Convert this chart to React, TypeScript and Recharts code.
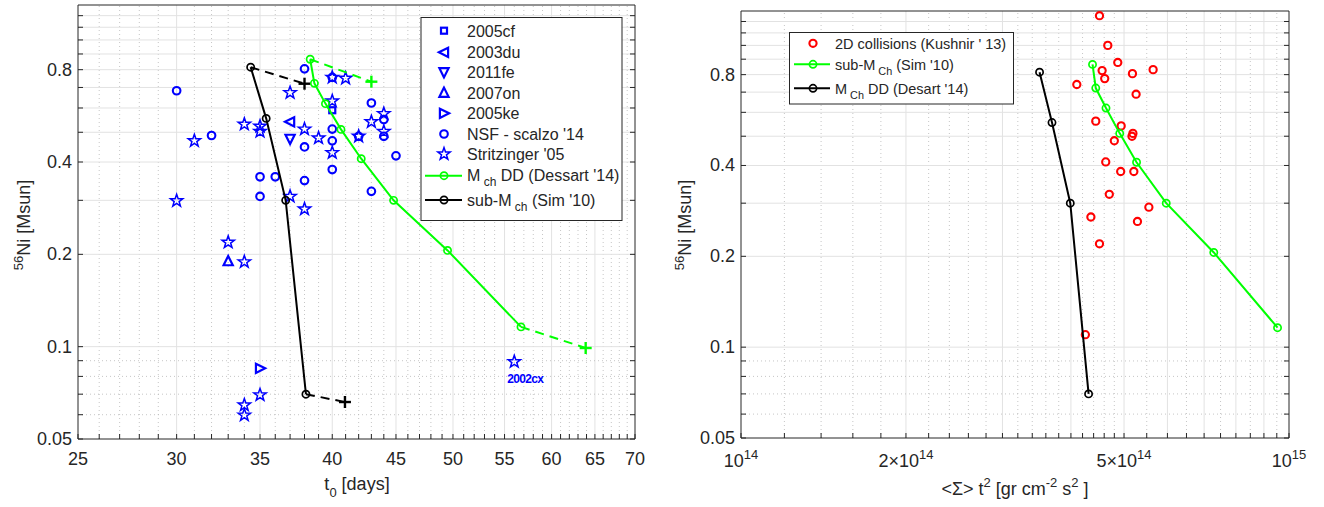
import React from "react";
import { ComposedChart, Scatter, XAxis, YAxis, ReferenceLine } from "recharts";

/* =======================
   Style constants
======================= */
const FONT = "'Liberation Sans', Arial, Helvetica, sans-serif";
const AXIS = "#262626";
const BLUE = "#0000ff";
const GREEN = "#00ff00";
const RED = "#ff0000";
const BLACK = "#000000";
const GRID = "#e2e2e2";
const GRID_DOT = "#b8b8b8";
const TICK_LEN = 5;

/* =======================
   Left panel data (t0 [days] vs Ni mass)
======================= */
const sn2005cf = [{ t0: 40, ni: 0.59 }];
const sn2003du = [{ t0: 37, ni: 0.541 }];
const sn2011fe = [{ t0: 37, ni: 0.476 }];
const sn2007on = [{ t0: 33, ni: 0.19 }];
const sn2005ke = [{ t0: 35, ni: 0.085 }];

const scalzo = [
  { t0: 30, ni: 0.683 },
  { t0: 32, ni: 0.488 },
  { t0: 35, ni: 0.358 },
  { t0: 36, ni: 0.358 },
  { t0: 35, ni: 0.309 },
  { t0: 38, ni: 0.805 },
  { t0: 38, ni: 0.448 },
  { t0: 38, ni: 0.348 },
  { t0: 40, ni: 0.755 },
  { t0: 40, ni: 0.512 },
  { t0: 40, ni: 0.469 },
  { t0: 40, ni: 0.378 },
  { t0: 42, ni: 0.485 },
  { t0: 43, ni: 0.623 },
  { t0: 43, ni: 0.321 },
  { t0: 44, ni: 0.55 },
  { t0: 44, ni: 0.485 },
  { t0: 45, ni: 0.419 },
];

const stritzinger = [
  { t0: 30, ni: 0.299 },
  { t0: 31, ni: 0.469 },
  { t0: 33, ni: 0.219 },
  { t0: 34, ni: 0.531 },
  { t0: 34, ni: 0.189 },
  { t0: 34, ni: 0.0645 },
  { t0: 34, ni: 0.0598 },
  { t0: 35, ni: 0.523 },
  { t0: 35, ni: 0.503 },
  { t0: 35, ni: 0.0696 },
  { t0: 37, ni: 0.673 },
  { t0: 37, ni: 0.309 },
  { t0: 38, ni: 0.512 },
  { t0: 38, ni: 0.281 },
  { t0: 39, ni: 0.479 },
  { t0: 40, ni: 0.755 },
  { t0: 40, ni: 0.632 },
  { t0: 40, ni: 0.429 },
  { t0: 41, ni: 0.75 },
  { t0: 42, ni: 0.485 },
  { t0: 43, ni: 0.541 },
  { t0: 44, ni: 0.575 },
  { t0: 44, ni: 0.503 },
];
const sn2002cx = [{ t0: 56, ni: 0.0893, name: "2002cx" }];

// model tracks (same Ni for both panels)
const dessartNi = [0.865, 0.722, 0.62, 0.511, 0.41, 0.3, 0.206, 0.116];
const dessartT0 = [38.4, 38.7, 39.5, 40.65, 42.2, 44.8, 49.5, 56.7];
const dessartSt2 = [4.38e14, 4.44e14, 4.635e14, 4.91e14, 5.27e14, 5.97e14, 7.29e14, 9.53e14];
const dessartPlus = [
  { t0: 43.0, ni: 0.731 },
  { t0: 63.9, ni: 0.099 },
];

const simNi = [0.815, 0.555, 0.3, 0.07];
const simT0 = [34.4, 35.4, 36.7, 38.1];
const simSt2 = [3.506e14, 3.694e14, 3.989e14, 4.308e14];
const simPlus = [
  { t0: 38.0, ni: 0.72 },
  { t0: 40.95, ni: 0.066 },
];

/* =======================
   Right panel data (<Sigma> t^2 vs Ni mass)
======================= */
const kushnir = [
  { st2: 4.51e14, ni: 1.254 },
  { st2: 4.67e14, ni: 1.0 },
  { st2: 4.87e14, ni: 0.878 },
  { st2: 4.56e14, ni: 0.825 },
  { st2: 4.61e14, ni: 0.776 },
  { st2: 5.18e14, ni: 0.806 },
  { st2: 5.65e14, ni: 0.831 },
  { st2: 4.1e14, ni: 0.742 },
  { st2: 5.26e14, ni: 0.689 },
  { st2: 4.44e14, ni: 0.561 },
  { st2: 4.94e14, ni: 0.541 },
  { st2: 5.19e14, ni: 0.511 },
  { st2: 5.17e14, ni: 0.5 },
  { st2: 4.8e14, ni: 0.483 },
  { st2: 4.63e14, ni: 0.411 },
  { st2: 4.93e14, ni: 0.382 },
  { st2: 5.21e14, ni: 0.382 },
  { st2: 4.7e14, ni: 0.321 },
  { st2: 5.55e14, ni: 0.291 },
  { st2: 4.35e14, ni: 0.27 },
  { st2: 5.29e14, ni: 0.261 },
  { st2: 4.51e14, ni: 0.22 },
  { st2: 4.25e14, ni: 0.11 },
];

/* =======================
   Ticks / grid values
======================= */
const t0Major = [25, 30, 35, 40, 45, 50, 55, 60, 65, 70];
const t0Minor = Array.from({ length: 46 }, (_, i) => 25 + i).filter((v) => v % 5 !== 0);
const t0Ticks = [...t0Major, ...t0Minor].sort((a, b) => a - b);

const niMajor = [0.05, 0.1, 0.2, 0.4, 0.8];
const niSolid = [0.1, 0.2, 0.3, 0.4, 0.5, 0.6, 0.7, 0.8, 0.9, 1.0, 1.1, 1.2];
const niDotted = [0.06, 0.07, 0.08, 0.09];
const niTicks = [0.05, ...niDotted, ...niSolid];

const st2Major = [1e14, 2e14, 5e14, 1e15];
const st2Solid = [2e14, 3e14, 4e14, 5e14, 6e14, 7e14, 8e14, 9e14];
const st2Dotted = [
  1.2e14, 1.4e14, 1.6e14, 1.8e14, 2.2e14, 2.4e14, 2.6e14, 2.8e14, 3.2e14, 3.4e14, 3.6e14,
  3.8e14, 4.2e14, 4.4e14, 4.6e14, 4.8e14, 5.5e14, 6.5e14, 7.5e14, 8.5e14, 9.5e14,
];
const st2Ticks = [1e14, ...st2Dotted, ...st2Solid, 1e15].sort((a, b) => a - b);
const st2Labels: Record<string, string> = { "1e14": "", "2e14": "2×", "5e14": "5×", "1e15": "" };

/* =======================
   Markers
======================= */
const Circle = ({ cx, cy, color, r = 3.8, w = 2.1 }: any) => (
  <circle cx={cx} cy={cy} r={r} fill="none" stroke={color} strokeWidth={w} />
);

const Star = ({ cx, cy, r = 6.5 }: any) => {
  const pts: string[] = [];
  for (let i = 0; i < 10; i++) {
    const a = -Math.PI / 2 + (i * Math.PI) / 5;
    const rr = i % 2 === 0 ? r : r * 0.4;
    pts.push(`${cx + rr * Math.cos(a)},${cy + rr * Math.sin(a)}`);
  }
  return <polygon points={pts.join(" ")} fill="none" stroke={BLUE} strokeWidth={1.5} />;
};

const Tri = ({ cx, cy, dir }: any) => {
  const s = 4.6;
  const pts: Record<string, number[][]> = {
    left: [[-s - 0.5, 0], [s - 0.5, -s], [s - 0.5, s]],
    right: [[s + 0.5, 0], [-s + 0.5, -s], [-s + 0.5, s]],
    up: [[0, -s - 0.5], [-s, s - 0.5], [s, s - 0.5]],
    down: [[0, s + 0.5], [-s, -s + 0.5], [s, -s + 0.5]],
  };
  return (
    <polygon
      points={pts[dir].map(([x, y]) => `${cx + x},${cy + y}`).join(" ")}
      fill="none"
      stroke={BLUE}
      strokeWidth={2.2}
      strokeLinejoin="miter"
    />
  );
};

const Square = ({ cx, cy }: any) => (
  <rect x={cx - 3} y={cy - 3} width={6} height={6} fill="none" stroke={BLUE} strokeWidth={2.2} />
);

const Plus = ({ cx, cy, color }: any) => (
  <g stroke={color} strokeWidth={2.4}>
    <line x1={cx - 6} y1={cy} x2={cx + 6} y2={cy} />
    <line x1={cx} y1={cy - 6} x2={cx} y2={cy + 6} />
  </g>
);

const Nothing = () => <g />;

/* =======================
   Axis ticks (inward tick mark drawn here + label)
======================= */
const tickText = { fontFamily: FONT, fontSize: 18, fill: AXIS };

const T0Tick = (p: any) => (
  <g>
    <line x1={p.x} y1={p.y} x2={p.x} y2={p.y - TICK_LEN} stroke={AXIS} />
    {t0Major.includes(p.payload.value) && (
      <text x={p.x} y={p.y + 26} textAnchor="middle" {...tickText}>
        {p.payload.value}
      </text>
    )}
  </g>
);

const NiTick = (p: any) => (
  <g>
    <line x1={p.x} y1={p.y} x2={p.x + TICK_LEN} y2={p.y} stroke={AXIS} />
    {niMajor.includes(p.payload.value) && (
      <text x={p.x - 6} y={p.y + 6} textAnchor="end" {...tickText}>
        {p.payload.value}
      </text>
    )}
  </g>
);

const St2Tick = (p: any) => {
  const v = p.payload.value;
  const key = v.toExponential().replace("+", "");
  const exp = String(Math.floor(Math.log10(v) + 1e-9));
  return (
    <g>
      <line x1={p.x} y1={p.y} x2={p.x} y2={p.y - TICK_LEN} stroke={AXIS} />
      {st2Major.includes(v) && (
        <text x={p.x} y={p.y + 29} textAnchor="middle" {...tickText}>
          {st2Labels[key]}10
          <tspan dy={-8} fontSize={13}>
            {exp}
          </tspan>
        </text>
      )}
    </g>
  );
};

const TopTick = (p: any) => <line x1={p.x} y1={p.y} x2={p.x} y2={p.y + TICK_LEN} stroke={AXIS} />;
const RightTick = (p: any) => <line x1={p.x} y1={p.y} x2={p.x - TICK_LEN} y2={p.y} stroke={AXIS} />;

/* =======================
   Grid as reference lines
======================= */
const gridX = (solid: number[], dotted: number[]) => [
  ...dotted.map((v) => (
    <ReferenceLine key={`xd${v}`} x={v} stroke={GRID_DOT} strokeWidth={0.8} strokeDasharray="1 3" />
  )),
  ...solid.map((v) => <ReferenceLine key={`xs${v}`} x={v} stroke={GRID} strokeWidth={1} />),
];
const gridY = (solid: number[], dotted: number[]) => [
  ...dotted.map((v) => (
    <ReferenceLine key={`yd${v}`} y={v} stroke={GRID_DOT} strokeWidth={0.8} strokeDasharray="1 3" />
  )),
  ...solid.map((v) => <ReferenceLine key={`ys${v}`} y={v} stroke={GRID} strokeWidth={1} />),
];

const axisCommon = {
  type: "number" as const,
  scale: "log" as const,
  allowDataOverflow: true,
  interval: 0 as const,
  tickSize: 0,
  tickMargin: 0,
  tickLine: false,
  stroke: AXIS,
  axisLine: { stroke: AXIS, strokeWidth: 1 },
};

/* =======================
   Legend rows
======================= */
const Sub = ({ main, sub, rest, size }: any) => (
  <>
    {main}
    <tspan dy={5} fontSize={size * 0.75}>
      {sub}
    </tspan>
    <tspan dy={-5}>{rest}</tspan>
  </>
);

const App = () => {
  const dessartLeft = dessartT0.map((t0, i) => ({ t0, ni: dessartNi[i] }));
  const simLeft = simT0.map((t0, i) => ({ t0, ni: simNi[i] }));
  const dessartRight = dessartSt2.map((st2, i) => ({ st2, ni: dessartNi[i] }));
  const simRight = simSt2.map((st2, i) => ({ st2, ni: simNi[i] }));

  const greenDashA = [dessartLeft[0], dessartPlus[0]];
  const greenDashB = [dessartLeft[dessartLeft.length - 1], dessartPlus[1]];
  const blackDashA = [simLeft[0], simPlus[0]];
  const blackDashB = [simLeft[simLeft.length - 1], simPlus[1]];

  const lg = 16; // left legend font
  const rg = 14.5; // right legend font

  return (
    <div
      style={{
        position: "absolute",
        left: 0,
        top: 0,
        width: 1324,
        height: 507,
        background: "#fff",
        fontFamily: FONT,
      }}
    >
      {/* ================= Left panel ================= */}
      <div style={{ position: "absolute", left: 0, top: 0 }}>
        <ComposedChart width={660} height={507} margin={{ top: 4, right: 24, bottom: 38, left: 18 }}>
          <XAxis {...axisCommon} dataKey="t0" domain={[25, 70]} ticks={t0Ticks} tick={T0Tick} height={30} />
          <XAxis {...axisCommon} xAxisId="top" orientation="top" domain={[25, 70]} ticks={t0Ticks} tick={TopTick} height={1} />
          <YAxis {...axisCommon} dataKey="ni" domain={[0.05, 1.3]} ticks={niTicks} tick={NiTick} width={60} />
          <YAxis {...axisCommon} yAxisId="right" orientation="right" domain={[0.05, 1.3]} ticks={niTicks} tick={RightTick} width={1} />
          {gridX(t0Major.filter((v) => v > 25 && v < 70), t0Minor)}
          {gridY(niSolid, niDotted)}

          <Scatter data={sn2005cf} isAnimationActive={false} shape={(p: any) => <Square cx={p.cx} cy={p.cy} />} />
          <Scatter data={sn2003du} isAnimationActive={false} shape={(p: any) => <Tri cx={p.cx} cy={p.cy} dir="left" />} />
          <Scatter data={sn2011fe} isAnimationActive={false} shape={(p: any) => <Tri cx={p.cx} cy={p.cy} dir="down" />} />
          <Scatter data={sn2007on} isAnimationActive={false} shape={(p: any) => <Tri cx={p.cx} cy={p.cy} dir="up" />} />
          <Scatter data={sn2005ke} isAnimationActive={false} shape={(p: any) => <Tri cx={p.cx} cy={p.cy} dir="right" />} />
          <Scatter data={scalzo} isAnimationActive={false} shape={(p: any) => <Circle cx={p.cx} cy={p.cy} color={BLUE} />} />
          <Scatter data={stritzinger} isAnimationActive={false} shape={(p: any) => <Star cx={p.cx} cy={p.cy} />} />
          <Scatter
            data={sn2002cx}
            isAnimationActive={false}
            shape={(p: any) => (
              <g>
                <Star cx={p.cx} cy={p.cy} />
                <text
                  x={p.cx + 11}
                  y={p.cy + 21}
                  textAnchor="middle"
                  fontFamily={FONT}
                  fontSize={12}
                  fontWeight="bold"
                  fill={BLUE}
                  letterSpacing={-0.7}
                >
                  {p.payload.name}
                </text>
              </g>
            )}
          />

          {/* dashed extrapolations */}
          <Scatter data={greenDashA} isAnimationActive={false} line={{ stroke: GREEN, strokeWidth: 2, strokeDasharray: "9 6" }} shape={Nothing} />
          <Scatter data={greenDashB} isAnimationActive={false} line={{ stroke: GREEN, strokeWidth: 2, strokeDasharray: "9 6" }} shape={Nothing} />
          <Scatter data={blackDashA} isAnimationActive={false} line={{ stroke: BLACK, strokeWidth: 2, strokeDasharray: "9 6" }} shape={Nothing} />
          <Scatter data={blackDashB} isAnimationActive={false} line={{ stroke: BLACK, strokeWidth: 2, strokeDasharray: "9 6" }} shape={Nothing} />
          <Scatter data={dessartPlus} isAnimationActive={false} shape={(p: any) => <Plus cx={p.cx} cy={p.cy} color={GREEN} />} />
          <Scatter data={simPlus} isAnimationActive={false} shape={(p: any) => <Plus cx={p.cx} cy={p.cy} color={BLACK} />} />

          <Scatter
            data={dessartLeft}
            isAnimationActive={false}
            line={{ stroke: GREEN, strokeWidth: 2 }}
            shape={(p: any) => <Circle cx={p.cx} cy={p.cy} color={GREEN} r={3.6} w={1.7} />}
          />
          <Scatter
            data={simLeft}
            isAnimationActive={false}
            line={{ stroke: BLACK, strokeWidth: 2 }}
            shape={(p: any) => <Circle cx={p.cx} cy={p.cy} color={BLACK} r={3.6} w={1.7} />}
          />
        </ComposedChart>
      </div>

      {/* ================= Right panel ================= */}
      <div style={{ position: "absolute", left: 660, top: 0 }}>
        <ComposedChart width={664} height={507} margin={{ top: 10, right: 34, bottom: 39, left: 21 }}>
          <XAxis {...axisCommon} dataKey="st2" domain={[1e14, 1e15]} ticks={st2Ticks} tick={St2Tick} height={30} />
          <XAxis {...axisCommon} xAxisId="top" orientation="top" domain={[1e14, 1e15]} ticks={st2Ticks} tick={TopTick} height={1} />
          <YAxis {...axisCommon} dataKey="ni" domain={[0.05, 1.3]} ticks={niTicks} tick={NiTick} width={60} />
          <YAxis {...axisCommon} yAxisId="right" orientation="right" domain={[0.05, 1.3]} ticks={niTicks} tick={RightTick} width={1} />
          {gridX(st2Solid, st2Dotted)}
          {gridY(niSolid, niDotted)}

          <Scatter data={kushnir} isAnimationActive={false} shape={(p: any) => <Circle cx={p.cx} cy={p.cy} color={RED} r={3.6} />} />
          <Scatter
            data={dessartRight}
            isAnimationActive={false}
            line={{ stroke: GREEN, strokeWidth: 2 }}
            shape={(p: any) => <Circle cx={p.cx} cy={p.cy} color={GREEN} r={3.6} w={1.7} />}
          />
          <Scatter
            data={simRight}
            isAnimationActive={false}
            line={{ stroke: BLACK, strokeWidth: 2 }}
            shape={(p: any) => <Circle cx={p.cx} cy={p.cy} color={BLACK} r={3.6} w={1.7} />}
          />
        </ComposedChart>
      </div>

      {/* ================= Labels & legends overlay ================= */}
      <svg width={1324} height={507} style={{ position: "absolute", left: 0, top: 0, pointerEvents: "none" }}>
        {/* axis titles */}
        <text transform="translate(30,225) rotate(-90)" textAnchor="middle" fontFamily={FONT} fontSize={18} fill={AXIS}>
          <tspan dy={-7} fontSize={13}>56</tspan>
          <tspan dy={7}>Ni [Msun]</tspan>
        </text>
        <text transform="translate(691,225) rotate(-90)" textAnchor="middle" fontFamily={FONT} fontSize={18} fill={AXIS}>
          <tspan dy={-7} fontSize={13}>56</tspan>
          <tspan dy={7}>Ni [Msun]</tspan>
        </text>
        <text x={357} y={490} textAnchor="middle" fontFamily={FONT} fontSize={18} fill={AXIS}>
          t<tspan dy={7} fontSize={13}>0</tspan>
          <tspan dy={-7}> [days]</tspan>
        </text>
        <text x={1015} y={495} textAnchor="middle" fontFamily={FONT} fontSize={18} fill={AXIS}>
          {"<Σ> t"}
          <tspan dy={-8} fontSize={13}>2</tspan>
          <tspan dy={8}> [gr cm</tspan>
          <tspan dy={-8} fontSize={13}>-2</tspan>
          <tspan dy={8}> s</tspan>
          <tspan dy={-8} fontSize={13}>2</tspan>
          <tspan dy={8}> ]</tspan>
        </text>

        {/* left legend */}
        <rect x={421} y={17.5} width={201} height={203} fill="#fff" stroke={AXIS} strokeWidth={1} />
        <Square cx={444} cy={30.7} />
        <Tri cx={444} cy={52.3} dir="left" />
        <Tri cx={444} cy={72.3} dir="down" />
        <Tri cx={444} cy={92.7} dir="up" />
        <Tri cx={444} cy={113.3} dir="right" />
        <Circle cx={444} cy={134} color={BLUE} />
        <Star cx={444} cy={154} />
        <line x1={425} y1={175.7} x2={462} y2={175.7} stroke={GREEN} strokeWidth={2} />
        <Circle cx={444} cy={175.7} color={GREEN} r={3.6} w={1.7} />
        <line x1={425} y1={200} x2={462} y2={200} stroke={BLACK} strokeWidth={2} />
        <Circle cx={444} cy={200} color={BLACK} r={3.6} w={1.7} />
        <g fontFamily={FONT} fontSize={lg} fill={AXIS}>
          <text x={467} y={36.5}>2005cf</text>
          <text x={467} y={58}>2003du</text>
          <text x={467} y={78}>2011fe</text>
          <text x={467} y={98.5}>2007on</text>
          <text x={467} y={119}>2005ke</text>
          <text x={467} y={139.5}>NSF - scalzo '14</text>
          <text x={467} y={159.5}>Stritzinger '05</text>
          <text x={467} y={181}>
            <Sub main="M" sub=" ch" rest=" DD (Dessart '14)" size={lg} />
          </text>
          <text x={467} y={205.5}>
            <Sub main="sub-M" sub=" ch" rest=" (Sim '10)" size={lg} />
          </text>
        </g>

        {/* right legend */}
        <rect x={789.5} y={32.5} width={224} height={71.5} fill="#fff" stroke={AXIS} strokeWidth={1} />
        <Circle cx={813} cy={43.3} color={RED} r={3.6} />
        <line x1={794} y1={64.3} x2={830} y2={64.3} stroke={GREEN} strokeWidth={2} />
        <Circle cx={813} cy={64.3} color={GREEN} r={3.6} w={1.7} />
        <line x1={794} y1={88.3} x2={830} y2={88.3} stroke={BLACK} strokeWidth={2} />
        <Circle cx={813} cy={88.3} color={BLACK} r={3.6} w={1.7} />
        <g fontFamily={FONT} fontSize={rg} fill={AXIS}>
          <text x={835} y={48.5}>2D collisions (Kushnir ' 13)</text>
          <text x={835} y={69.5}>
            <Sub main="sub-M" sub=" Ch" rest=" (Sim '10)" size={rg} />
          </text>
          <text x={835} y={93.5}>
            <Sub main="M" sub=" Ch" rest=" DD (Desart '14)" size={rg} />
          </text>
        </g>
      </svg>
    </div>
  );
};

export default App;
